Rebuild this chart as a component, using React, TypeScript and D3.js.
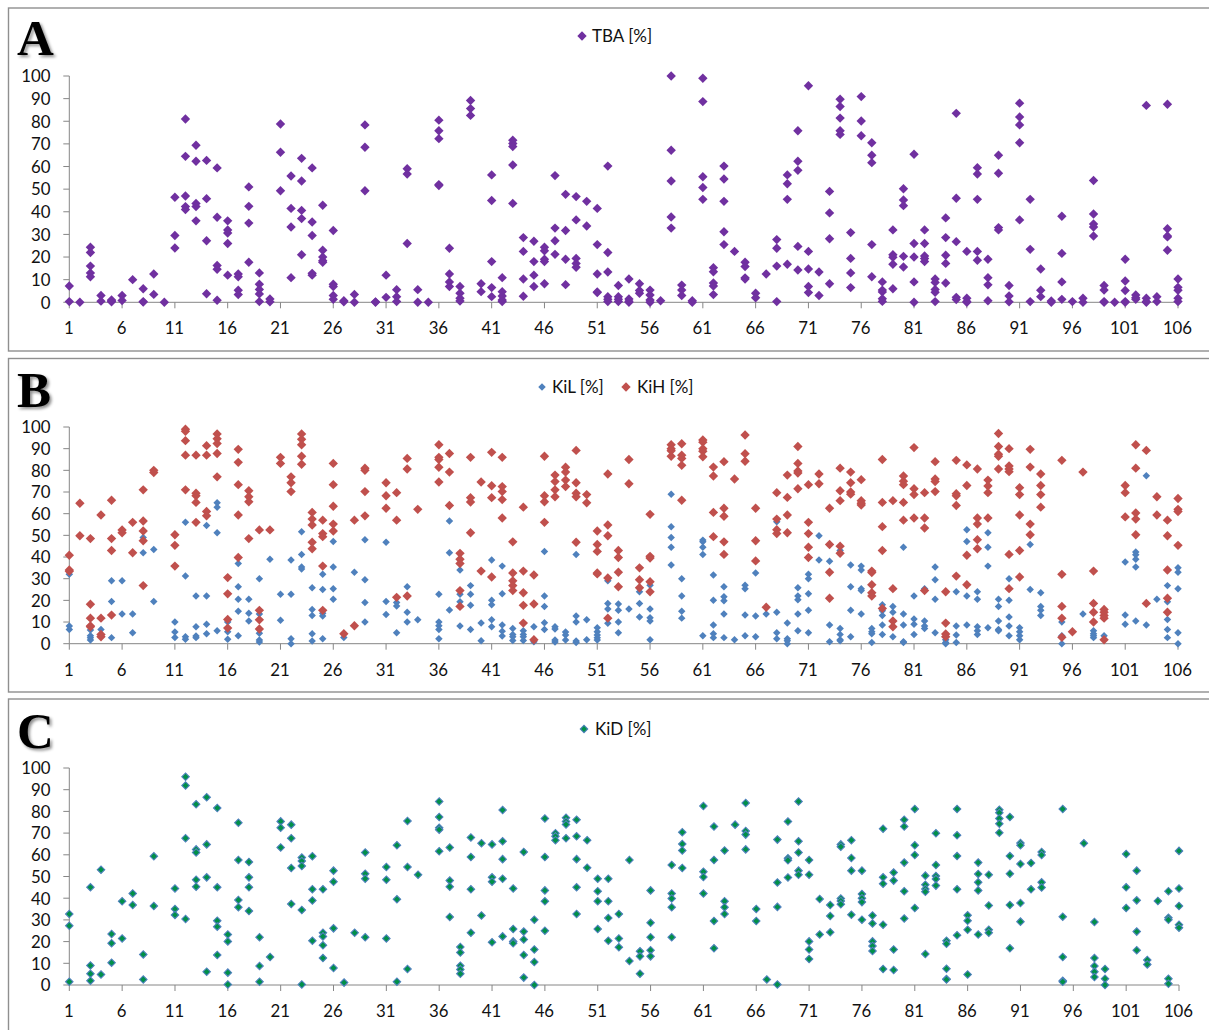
import React from "react";
import * as d3 from "d3";

// Each list holds the values of one category (1..106).
const tbaValues: number[][] = [
[7.2,0.3],[0],[24.3,22,16,13,11.3],[3,0.5],[0.6,0.2,1],[3,0.8],[10],[6,0.3,0.1],[12.5,3.5],[0],
[46.4,29.5,24],[81,64.5,47,42.3,41],[69.4,62.3,43.7,42.3,36],[62.7,45.8,27.2,3.8],[59.4,37.6,16.3,14.6,0.9],[36,32,30.6,26,12],[12.5,11.3,5.3,3.4],[51,42.4,35,17.7],[13,8,5.7,3.7,0.3],[1.5,0.2],
[78.8,66.3,49.3],[55.8,41.5,33.3,10.9],[63.6,53.6,40.6,37,21],[59.4,35.5,29.5,12.8,12],[42.9,23,20,18.4,17.7],[31.7,8,7,3,1.3],[0.7,0.2],[3.5,0],[78.4,68.5,49.3],[0,0.2],
[12,2.2],[5.6,2.5,0.3],[59,56.7,26],[5.6,0],[0],[80.5,75.8,72.3,52,51.6],[23.9,12.5,9,7],[7,4,1.8,0.6],[89.2,85.6,82.6],[8.2,4.7],
[56.3,45,18,6.5,2.5],[10.9,4.7,2.8,1,0.3],[71.6,70.2,68.8,60.7,43.7],[28.6,22.5,10.3,2.7],[27,18,12,7],[24.3,22.8,19,18,8.2],[56,32.8,27.2,21.2],[47.7,31.7,19,7.8],[46.7,36.4,19.4,17.2,15.5],[44.6,33.7],
[41.5,25.5,12.5,4.6,4.3],[60.2,22,13.4,2.5,1.3,0.3],[7.4,2.5,1.3,0.3],[10.3,1.5,0.5,0],[8.2,5.2,4],[5.4,3.2,1,0],[0.7],[100,67.2,53.6,37.7,32.8],[7.6,5.4,3],[0.7,0],
[99,88.7,55.5,50.7,45.5],[15.3,13.5,8.5,7.2,3.4],[60.2,54.5,44.6,31.2,25.5],[22.5],[17.7,15.8,10.8,10.3],[4,2],[12.5],[27.7,23.9,16,0.3],[56.3,52.4,45.5,16.8],[75.8,62.3,58.3,24.7,14.3],
[95.7,22.5,14.7,7,4.3],[13.4,3],[49,39.5,28.1,8.2],[89.7,86.5,81.4,75.8,74.2],[30.8,19.4,13,6.5],[90.9,80.1,73.6],[70.5,65,61.7,25.5,11.3],[9,5.4,4.6,1.6,0.4],[32,21,19.9,16.8,6],[50.2,45.2,42.7,20.3,15.6],
[65.4,26,20,9,0],[32,26,20.5,19.3,18],[10.3,8.8,5.7,4.4,0.3],[37.3,28.6,20.8,17.2,8.5],[83.5,46,26.8,2.2,1.2],[22.5,1.8,0.4,0],[59.5,56.7,45.5,22.5,18.6],[19,10.9,7.7,0.7],[65,57,33,32],[7.4,2.8,0.2],
[88,81.9,78.4,70.5,36.4],[45.5,23.4,0.3],[14.7,5.3,2.5],[0.6,0],[38,21.6,9,1.3],[0.3],[1.8,0],[53.8,39,34.6,33.3,29.3],[7.4,5.4,0.3,0],[0],
[19,9.4,5.2,0.3,0],[3.2,2,1.3],[87,1.8,0.3,0],[2.5,0.3],[87.5,32.5,29.3,28.9,23],[10.3,6.6,5.3,1.8,0.3],
];

const kilValues: number[][] = [
[32,8.2,6.6],[],[6.3,3.7,2.8,1.7],[6.6],[29,19.5,2.8],[29,13.7],[13.7,5],[49,42],[43.5,19.5],[],
[10,5.4,2.9],[56,31.2,3.2,2],[22,7.8,3.5,2.8],[54.5,22,9,4.6],[65,63,51.2,6],[10,5.5,2],[37,26.3,20.5,15,3.7],[20.5,14,10.5],[30,13.7,4.8,1.7,0.8],[39],
[22.8,10.8],[38.6,22.8,2.3,0],[51.7,41.2,35.4,34.5],[25.8,15.8,13,4.6,1.2],[32,25,14,12.8,2.3],[47.2,35.4,25.4,20.5],[2.9],[33],[48,29.5,19,10],[],
[46.8,19.5,13.5],[19,17.4,5],[26.3,14.5,10],[11],[],[22.8,10,8.3,6.6,2.3],[56.6,42,15.5],[34,22.8,19.4,8.2],[26.8,22.8,17.7,6.5],[9.5,1.4],
[38.6,20,18,11,7.8],[35.8,23,8.6,5.8,3.5],[7,4.3,3.2,1.5],[6,4.3,3.2,1.5],[7.8,0.9],[42.6,22,17.2,9.7,6.5],[7.8,6.8,1.7,0.8],[5.4,4,1.7],[41.2,12.8,10,1.2,0.5],[11,1.8],
[7.4,5.5,4,2.8,1.7],[29,18.6,16,9.4],[18.3,15.4,10,5],[16],[24,18.6,12.3],[27,16,12,10.5,1.8],[],[69,54,49,44.5,36.3],[30,22,15,11.8],[],
[47.8,47,44.5,41.2,3.7],[31.7,20,8.6,4.6,2.8],[26.3,21.7,19.8,13.7,2.8],[1.8],[27,25.4,13.2,3.7],[32.6,12.8,3.2],[13.7],[56.3,14.5,5,2.3],[9.5,2.3,1.4,0],[25.8,22,20.3,13.7,6],
[32,30,23,15.4,5],[49.8,38.6],[38,8.6,0.9],[43,7,4.3,1.8,1.4],[36.3,26.3,15.4,3.2],[35.8,34,25.4,24.5,13.7],[7,5.5,4.6,0.5],[18,15.2,13,8.6,4.2],[17.2,14.5,3.2],[44.5,13.7,8.6,0.9,0.5],
[22,11.4,9,4.2],[25.4,10.5,8.2,7],[35.4,29.5,20.5,5],[1.8,0.5,0],[24,8.2,4,0.5],[52.6,47.2,22,8.6],[24,20.5,7.8,6,4.2],[51.2,44.5,35.8,7.4],[20.5,17.2,10.5,6.5,6],[30,20,12.3,8.2,3.7],
[7.4,5.5,3.7,1.8],[45.8,25],[23.5,17.2,15.4,13],[],[10,3.7,0],[],[13.7],[6,4.6,3.7,2.8],[3.7],[],
[37.7,13.2,9],[42.3,41,39,35.4,10.5],[77.5,8.6],[20.5],[26.8,19.4,11.2,6.5,2.8],[35,33,25.4,5,0],
];

const kihValues: number[][] = [
[40.8,34,33.4],[64.8,49.8],[48.5,18.2,11.8,8.2,7.8],[59.4,11.8,4.3,3.2],[66.2,48.5,43,13.2],[52.5,51.2],[56,42],[71,56.6,52,47.5,26.8],[80,79],[],
[50.3,45.4,35.8],[99,98,93.7,87,71],[87,69.4,68.3,65.2,56],[91.4,87,61,59],[96.8,94.6,92.4,87.8,77],[30.5,23,11.2,7.2],[89.7,83.7,73.4,59.4,39.8],[70.6,67.8,65.5,48.5],[52.5,15.4,11,6.8],[52.5],
[86,83.2],[77,74.3,70.2],[96.8,94.3,91.8,86.5,82.8],[60.6,57.5,54.8,46.8,43.8],[57,50.8,49.4,35.8,15.4],[83.2,73.4,63.4,55.2,52],[4.6],[57,8.3],[81,80,70.2,59],[],
[74.3,68.3,62.5],[69.7,57,21.4],[85.5,80.6,22],[62],[],[91.8,86,85,81.4,74.6],[87.8,79.2,63.8],[41.7,39,37,24.5,17.2],[86,67.4,65.4,51.2],[74.6,33.5],
[88.3,72.9,67.4,30.8],[86,72.5,70.2,66.5,58],[47,32.6,29,26.8,24.5],[63,33.5,23.5,17.7,9.5],[31.7,18.3,1.8],[86.5,68.3,65.5,56],[77.8,74.8,71,67.8],[81.4,79.2,75.5,72.5],[89.2,74.3,69.4,67.8,46.8],[68.8,65],
[52,45.8,42.6,32.6,32.2],[78.3,54.8,49.8,30.3,11.8],[43,39.8,33,26.3],[85,73.8],[35,29.5,25.8],[59.7,40.3,39.5,28.6,24],[],[91.8,90,89,86.5],[92.3,87,85.5,82.3,66.2],[],
[94,93,90,88.8,86.3],[81.5,77.4,60.6,49.4],[84,62.5,58.8,47,41.2],[76],[96.3,87.7,84.2],[62.5,47.5,38.2],[16.8],[69.7,57.5,52.6,50.8],[77.8,67.5,59.4,51.2],[91,83.2,79.7,78.8,71.5],
[73.4,56,50.8,44.5,39.8],[78.3,73.8],[62.5,45.8,33,21],[81,70.6,66,45,41.7],[79.2,74.3,70,69],[75.7,66,64.8,64],[33.5,32.8,27.2,23.5,22],[85,65.2,54,43,16.3],[66,25.4,10.5,7.8],[77.4,75,73.4,65.2,57],
[90.5,71.5,68.8,58],[69.7,58,53.4,24.5],[84,76,74.8,70.2],[24,9.5,4.5,3.2],[84.6,69.2,68.3,63.8,31.2],[82.5,73,40.8,27.2],[80.6,58,55.2,48,43.8],[75.5,72.8,69.7,58],[97,91,87.4,86.5,80.6],[90,82,80.6,79.4,41.2,25.4],
[72,68.8,59.4,43,30.8],[89.7,81.5,55.2,50.3],[78.3,73,68.8,63],[],[84.6,32,17.2,11.8,3],[5.5],[79.2],[33.5,18.6,14.5,10],[15.8,14.5,13,11.8,1.8],[],
[73,69.7,58.5],[91.8,81,60.3,57.5,50.3],[89.2,18.6],[67.8,59.4],[57,49.8,34,21,14.5],[67,62,61,45.4],
];

const kidValues: number[][] = [
[32.7,27.3,1.5],[],[45,9,5.2,2],[53.1,4.8],[23.5,19.2,10.3],[38.6,21.4],[42.2,36.9],[14.1,2.5],[59.3,36.4],[],
[44.5,35,32.3],[96,91.9,67.6,30.4],[83.3,62.5,61.1,48.5,45.3],[86.5,64.8,49.6,6.1],[81.6,45,29.6,26.9,13.8],[23.3,20.1,5.7,0.2],[74.8,57.6,39.2,35.8],[56.7,49.6,45,34.1],[22,8.8,1.5],[12.9],
[75.4,72.5,63.4],[73.9,67.6,53.9,37.3],[58.7,57.1,54.8,34.6,0.2],[59.3,44.1,38.9,20.4],[44.1,24.1,22.4,18.3,12.4],[52.7,47.6,26.1,7.8],[1.1],[24.1],[61.1,51.3,49,22],[],
[54.4,48.5,21.4],[64.4,39.5,1.5],[75.6,54.4,7.4],[50.8],[],[84.6,77.4,72.5,71.6,61.6],[63.4,48.1,45.3,31.3],[17.5,15,8.9,7.2,5.2],[68,59,44.1,24.1],[65.3,32],
[64.8,49.6,47.6,19.7],[80.6,66.2,58,49,22.4],[44.5,25.8,20.1,19.2],[61.3,24.6,21,13.8,3.4],[30.1,16.4,10.6,0],[76.7,59,43.6,38.6,25],[69.9,68.5,66.7],[77.1,75.3,74,67.6],[76.2,68.5,58,45,32.7],[66.7,54],
[49,43.2,38.6,25.8],[49,38.6,30.9,20.4],[32.7,21.4,17.4],[57.6,11.1],[15.5,13.2,5.2],[43.6,28.7,22,16,13.2],[],[55.3,42.2,39.9,35.8,22],[70.4,65,62,53.9],[],
[82.5,52.2,49.8,42.2],[73,57.6,29.5,16.9],[62,38.6,35.8,32.7],[73.9],[83.9,71,69.3,62.5],[35,29.5],[2.5],[67,47.2,36,0.2],[75.3,58.4,57.5,49.5],[84.6,66.2,61.1,52.7,50.8],
[57.6,50.8,20.1,16.4,12],[39.6,23.3],[36.9,31.8,24.3],[64.8,63.7,39.9,38.7,37.2],[66.7,58.5,52.7,32.4],[52.7,41.9,40,38.2,30.1],[32,28.3,20.1,18,15.7],[72,49.6,46.7,27.8,7.4],[51.8,48.1,16.4,6.9],[76.2,73,56.4,43.2,30.6],
[81.1,64.4,59.9,35.5],[50.4,46.2,44.2,43,14.3],[69.9,55.3,50.2,48.8,45.8],[20.4,19,7.5,2.8,2.5],[81.1,69,59.4,44.1,22.9],[32.1,29.6,25.5,4.8],[56.4,51.2,47.3,43.6,23.3],[50.8,36.6,25.5,24.1],[80.8,79.4,76.7,74.3,70.2],[77.4,59.4,51.3,36.9,16.9],
[65.4,64.4,55.8,37.8,29.2],[56.2,44.1],[61.3,59.9,47.3,44.9],[],[81.1,31.5,12.9,2,1.5],[],[65.3],[29,12.4,8.8,6.1,3.7],[7.4,2.9,0],[],
[60.4,45,35.5],[52.7,39,24.6,16],[11.5,9.5],[38.7],[43.2,31,30.1,2.9,0.6],[61.8,44.5,36.4,27.8,26.4],
];

const yTicks = [0, 10, 20, 30, 40, 50, 60, 70, 80, 90, 100];
const xTicks = [1, 6, 11, 16, 21, 26, 31, 36, 41, 46, 51, 56, 61, 66, 71, 76, 81, 86, 91, 96, 101, 106];

const FONT = "Lato, 'Open Sans', sans-serif";
const AXIS = "#868686";
const TXT = "#111111";

type Series = { name: string; values: number[][]; fill: string; stroke?: string; size: number; legendX: number; textX: number };
type Panel = { letter: string; frameTop: number; frameBottom: number; letterY: number; y0: number; y100: number; x106: number; legendY: number; series: Series[] };

const panels: Panel[] = [
  { letter: "A", frameTop: 8, frameBottom: 351, letterY: 55, y0: 302.3, y100: 76, x106: 1178, legendY: 36,
    series: [{ name: "TBA [%]", values: tbaValues, fill: "#7030A0", size: 44, legendX: 582, textX: 592 }] },
  { letter: "B", frameTop: 358.5, frameBottom: 692, letterY: 407, y0: 643.7, y100: 427, x106: 1178, legendY: 387,
    series: [
      { name: "KiL [%]", values: kilValues, fill: "#4F81BD", size: 28, legendX: 542, textX: 552 },
      { name: "KiH [%]", values: kihValues, fill: "#C0504D", size: 44, legendX: 626, textX: 637 },
    ] },
  { letter: "C", frameTop: 699, frameBottom: 1040, letterY: 748, y0: 985, y100: 768, x106: 1179, legendY: 729,
    series: [{ name: "KiD [%]", values: kidValues, fill: "#009048", stroke: "#4F81BD", size: 28, legendX: 584, textX: 595 }] },
];

const marker = (size: number) => d3.symbol().type(d3.symbolSquare).size(size)() as string;

function Dot({ x, y, s }: { x: number; y: number; s: Series }) {
  return (
    <path d={marker(s.size)} transform={`translate(${x},${y}) rotate(45)`} fill={s.fill}
      stroke={s.stroke ?? "none"} strokeWidth={s.stroke ? 1.1 : 0} />
  );
}

function ChartPanel({ p }: { p: Panel }) {
  const x = d3.scaleLinear().domain([1, 106]).range([69.3, p.x106]);
  const y = d3.scaleLinear().domain([0, 100]).range([p.y0, p.y100]);
  return (
    <g>
      <rect x={8.5} y={p.frameTop} width={1215} height={p.frameBottom - p.frameTop} fill="#fff" stroke="#8f8f8f" strokeWidth={1.4} />
      <text x={17} y={p.letterY} fontFamily="'Liberation Serif', serif" fontWeight="bold" fontSize={51} fill="#000" filter="url(#shadow)">{p.letter}</text>
      <line x1={x(1)} x2={x(1)} y1={y(0)} y2={y(100)} stroke={AXIS} />
      <line x1={x(1)} x2={x(106)} y1={y(0)} y2={y(0)} stroke={AXIS} />
      {yTicks.map((t) => (
        <g key={t}>
          <line x1={x(1) - 6} x2={x(1)} y1={y(t)} y2={y(t)} stroke={AXIS} />
          <text x={50.5} y={y(t) + 6.3} textAnchor="end" fontFamily={FONT} fontSize={16.8} fill={TXT}>{t}</text>
        </g>
      ))}
      {xTicks.map((t) => (
        <g key={t}>
          <line x1={x(t)} x2={x(t)} y1={y(0)} y2={y(0) + 6} stroke={AXIS} />
          <text x={x(t) - 0.5} y={y(0) + 32} textAnchor="middle" fontFamily={FONT} fontSize={16.8} fill={TXT}>{t}</text>
        </g>
      ))}
      {p.series.map((s) => (
        <g key={s.name}>
          {s.values.map((vals, i) => vals.map((v, j) => <Dot key={`${i}-${j}`} x={x(i + 1)} y={y(v)} s={s} />))}
          <Dot x={s.legendX} y={p.legendY} s={s} />
          <text x={s.textX} y={p.legendY + 5.8} fontFamily={FONT} fontSize={17} fill={TXT}>{s.name}</text>
        </g>
      ))}
    </g>
  );
}

export default function App() {
  return (
    <svg width={1209} height={1030} viewBox="0 0 1209 1030" style={{ position: "absolute", left: 0, top: 0, background: "#fff" }}>
      <defs>
        <filter id="shadow" x="-30%" y="-30%" width="170%" height="170%">
          <feDropShadow dx={2} dy={2} stdDeviation={1.5} floodColor="#000" floodOpacity={0.45} />
        </filter>
      </defs>
      {panels.map((p) => <ChartPanel key={p.letter} p={p} />)}
    </svg>
  );
}
